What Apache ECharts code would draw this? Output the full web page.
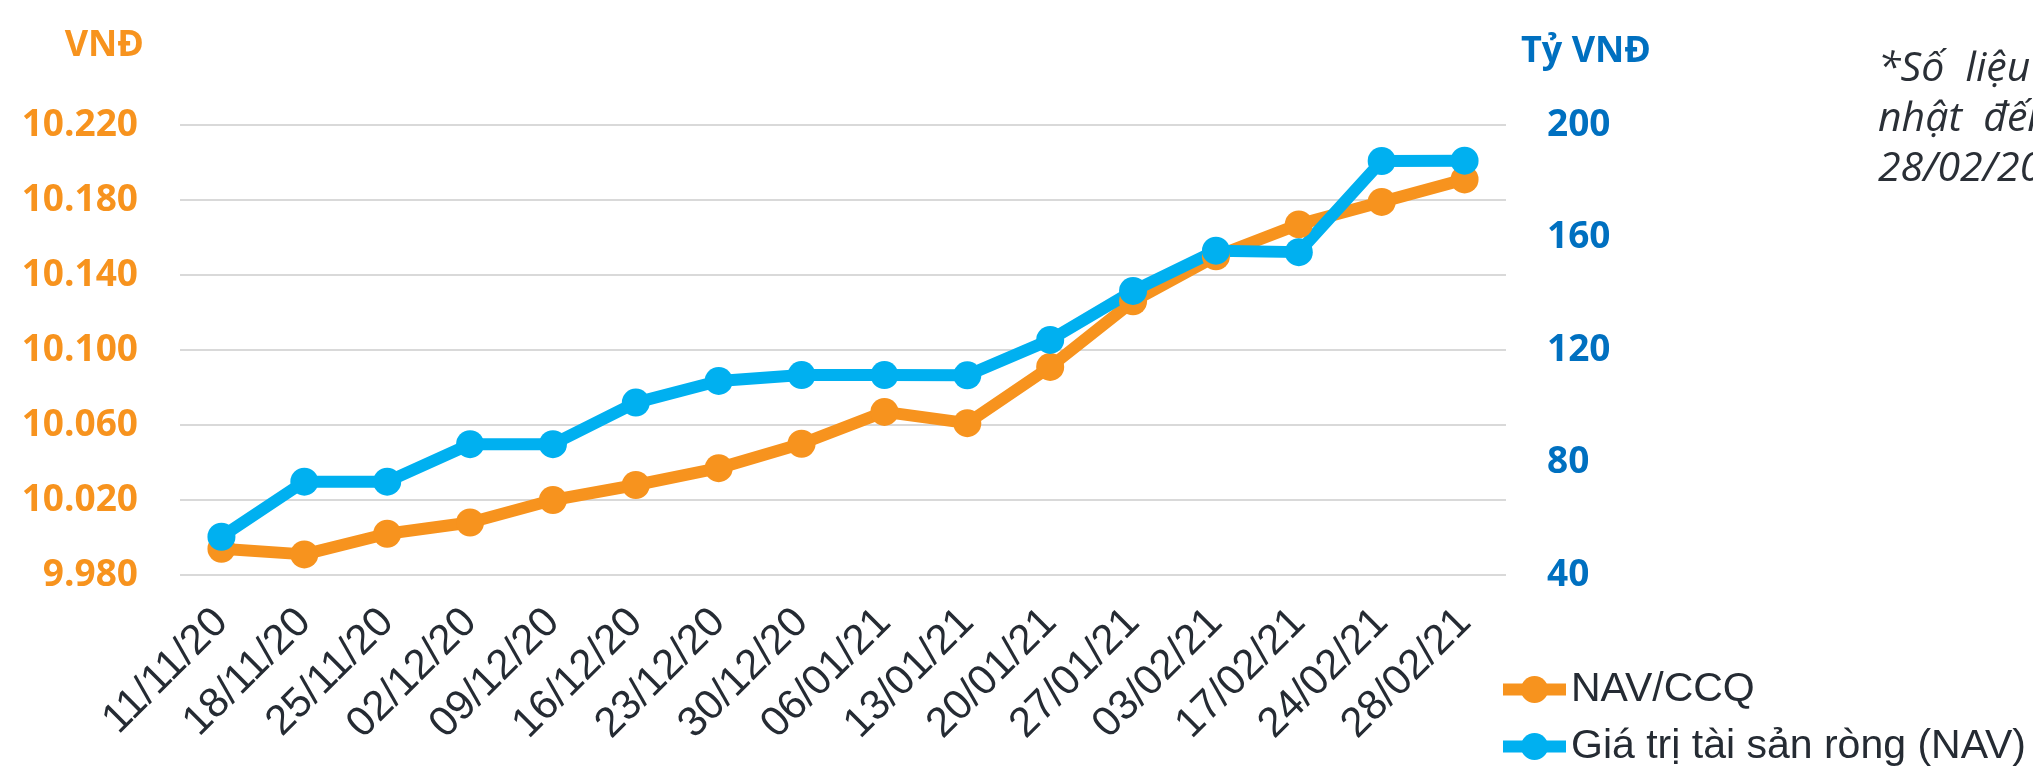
<!DOCTYPE html>
<html>
<head>
<meta charset="utf-8">
<title>NAV/CCQ</title>
<script src="https://cdn.jsdelivr.net/npm/echarts@6/dist/echarts.min.js"></script>
<style>
  html, body { margin: 0; padding: 0; background: #fff; }
  #chart { width: 2033px; height: 769px; }
</style>
</head>
<body>
<div id="chart"></div>
<script>
// ngày báo cáo
const dates = ['11/11/20', '18/11/20', '25/11/20', '02/12/20', '09/12/20', '16/12/20', '23/12/20', '30/12/20',
  '06/01/21', '13/01/21', '20/01/21', '27/01/21', '03/02/21', '17/02/21', '24/02/21', '28/02/21']
// NAV/CCQ (VNĐ)
const navPerUnit = [9994, 9991, 10002, 10008, 10020, 10028, 10037, 10050,
  10067, 10061, 10091, 10126, 10150, 10167, 10179, 10191]
// Giá trị tài sản ròng (tỷ VNĐ)
const navTotal = [53.6, 73.2, 73.2, 86.5, 86.5, 101.3, 109, 111.1,
  111.1, 111, 123.6, 141, 155.3, 154.8, 187.2, 187.3]
const seriesNames = ['NAV/CCQ', 'Giá trị tài sản ròng (NAV)']
const noteLines = ['*Số  liệu  được  cập', 'nhật  đến  ngày', '28/02/2021']

const ORANGE = '#F7931E'
const BLUE = '#00B0F0'
const DARK_BLUE = '#0070C0'
const TEXT = '#252b33'

// 10220 -> "10.220"
function dotThousands(v) {
  const n = Math.round(v)
  const head = Math.floor(n / 1000)
  const tail = String(n % 1000).padStart(3, '0')
  return head > 0 ? head + '.' + tail : String(n)
}

const chart = echarts.init(document.getElementById('chart'))

const lineSeries = (name, data, color, yIndex) => ({
  name: name,
  type: 'line',
  yAxisIndex: yIndex,
  data: data,
  symbol: 'circle',
  symbolSize: 28,
  lineStyle: { width: 12, color: color },
  itemStyle: { color: color },
  emphasis: { disabled: true }
})

const option = {
  animation: false,
  grid: { left: 180, right: 527, top: 125, bottom: 194 },
  legend: {
    data: seriesNames,
    orient: 'vertical',
    left: 1497,
    top: 669,
    height: 110,
    padding: 0,
    itemWidth: 63,
    itemHeight: 34,
    itemGap: 16,
    lineStyle: { width: 12 },
    textStyle: { fontSize: 41, lineHeight: 41, color: TEXT, fontFamily: 'Liberation Sans' }
  },
  xAxis: {
    type: 'category',
    data: dates,
    boundaryGap: true,
    axisLine: { show: false },
    axisTick: { show: false },
    axisLabel: {
      interval: 0,
      rotate: 45,
      align: 'right',
      verticalAlign: 'top',
      margin: 11,
      padding: [0, 21, 0, 0],
      fontSize: 42,
      color: TEXT,
      fontFamily: 'Liberation Sans'
    }
  },
  yAxis: [{
    type: 'value',
    position: 'left',
    min: 9980,
    max: 10220,
    interval: 40,
    name: 'VNĐ',
    nameLocation: 'end',
    nameGap: 79,
    nameTextStyle: {
      color: ORANGE, fontSize: 36, fontWeight: 'bold', fontFamily: 'Open Sans',
      align: 'right', verticalAlign: 'middle', padding: [0, 36, 0, 0]
    },
    axisLine: { show: false },
    axisTick: { show: false },
    splitLine: { lineStyle: { color: '#D9D9D9', width: 2 } },
    axisLabel: {
      margin: 42,
      color: ORANGE,
      fontSize: 37,
      fontWeight: 'bold',
      fontFamily: 'Open Sans',
      formatter: dotThousands
    }
  }, {
    type: 'value',
    position: 'right',
    min: 40,
    max: 200,
    interval: 40,
    name: 'Tỷ VNĐ',
    nameLocation: 'end',
    nameGap: 73,
    nameTextStyle: {
      color: DARK_BLUE, fontSize: 36, fontWeight: 'bold', fontFamily: 'Open Sans',
      align: 'left', verticalAlign: 'middle', padding: [0, 0, 0, 15]
    },
    axisLine: { show: false },
    axisTick: { show: false },
    splitLine: { show: false },
    axisLabel: {
      margin: 41,
      color: DARK_BLUE,
      fontSize: 37,
      fontWeight: 'bold',
      fontFamily: 'Open Sans'
    }
  }],
  graphic: [{
    type: 'text',
    left: 1878,
    top: 44,
    style: {
      text: noteLines.join('\n'),
      fontSize: 41,
      fontStyle: 'italic',
      fontFamily: 'Open Sans',
      lineHeight: 50,
      fill: '#2a2f36'
    }
  }],
  series: [
    lineSeries(seriesNames[0], navPerUnit, ORANGE, 0),
    lineSeries(seriesNames[1], navTotal, BLUE, 1)
  ]
}

chart.setOption(option)
</script>
</body>
</html>
